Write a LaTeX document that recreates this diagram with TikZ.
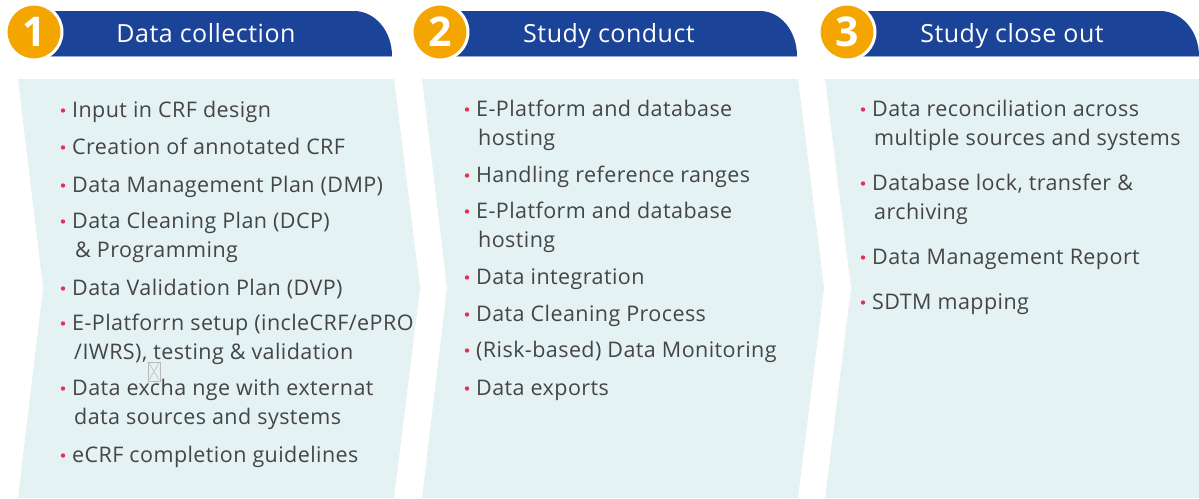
\documentclass[tikz,border=0pt]{standalone}
\usepackage{fontspec}
\setmainfont{Open Sans}
\newfontfamily\bodyfont[LetterSpace=2.0]{Open Sans}
\definecolor{bandc}{HTML}{1B4397}
\definecolor{orangec}{HTML}{F5A500}
\definecolor{panelc}{HTML}{E4F2F3}
\definecolor{textc}{HTML}{454545}
\definecolor{dotc}{HTML}{E5304E}
\newcommand\myitem[4]{\fill[dotc] (#2-9,#3-6.5) circle (2.2pt); \node[txt] (#1) at (#2,#3) {#4};}
\newcommand\myline[4]{\node[txt] (#1) at (#2,#3) {#4};}
\newcommand\myband[3]{\fill[bandc] (#1,11) -- (#2,11) .. controls ({#2+0.552*(#3-#2)},11) and (#3,31) .. (#3,56) -- (#1,56) -- cycle;
  \draw[bandc!45!white, line width=1pt] (#1,56) -- (#3,56);}
\begin{document}
\begin{tikzpicture}[x=1pt,y=-1pt,
  txt/.style={anchor=base west, text=textc, font=\bodyfont\fontsize{21.5}{21.5}\selectfont, inner sep=0pt},
  head/.style={text=white, font=\bodyfont\fontsize{25}{25}\selectfont, anchor=base, inner sep=0pt},
  num/.style={circle, fill=orangec, draw=white, line width=3pt, minimum size=56pt, inner sep=0pt, text=white, font=\fontsize{41}{41}\selectfont\bfseries},
  panel/.style={fill=panelc}]
\useasboundingbox (0,0) rectangle (1199,498);
% panels
\fill[panel] (18,79) -- (394,79) -- (420,288) -- (394,498) -- (18,498) -- (43,288) -- cycle;
\fill[panel] (422,79) -- (798,79) -- (824,288) -- (798,498) -- (422,498) -- (447,288) -- cycle;
\fill[panel] (825,79) -- (1199,79) -- (1199,498) -- (825,498) -- (851,288) -- cycle;
% header bands
\myband{40}{354}{392}
\myband{445}{760}{797}
\myband{850}{1160}{1199}
% number circles
\node[num] (n1) at (34,32) {1};
\node[num] (n2) at (440,32) {2};
\node[num] (n3) at (847,32) {3};
% header titles
\node[head] (h1) at (206,42) {Data collection};
\node[head] (h2) at (609,42) {Study conduct};
\node[head] (h3) at (1012,42) {Study close out};
% panel 1
\myitem{p1a}{72}{117}{Input in CRF design}
\myitem{p1b}{72}{154}{Creation of annotated CRF}
\myitem{p1c}{72}{192}{Data Management Plan (DMP)}
\myitem{p1d}{72}{228}{Data Cleaning Plan (DCP)}
\myline{p1dd}{75}{257}{\& Programming}
\myitem{p1e}{72}{295}{Data Validation Plan (DVP)}
\myitem{p1f}{72}{330}{E-Platforrn setup (incleCRF/ePRO}
\myline{p1ff}{74}{359}{/IWRS), testing \& validation}
\myitem{p1g}{72}{395}{Data excha nge with externat}
\myline{p1gg}{74}{424}{data sources and systems}
\myitem{p1h}{72}{462}{eCRF completion guidelines}
% placeholder icon
\draw[gray!55, line width=0.6pt] (148,362) rectangle (160,381);
\draw[gray!55, line width=0.5pt] (149,363) -- (159,380) (159,363) -- (149,380);
% panel 2
\myitem{p2a}{476}{116}{E-Platform and database}
\myline{p2aa}{478}{145}{hosting}
\myitem{p2b}{476}{182}{Handling reference ranges}
\myitem{p2c}{476}{218}{E-Platform and database}
\myline{p2cc}{478}{247}{hosting}
\myitem{p2d}{476}{284}{Data integration}
\myitem{p2e}{476}{321}{Data Cleaning Process}
\myitem{p2f}{476}{357}{(Risk-based) Data Monitoring}
\myitem{p2g}{476}{395}{Data exports}
% panel 3
\myitem{p3a}{872}{116}{Data reconciliation across}
\myline{p3aa}{874}{145}{multiple sources and systems}
\myitem{p3b}{872}{190}{Database lock, transfer \&}
\myline{p3bb}{874}{219}{archiving}
\myitem{p3c}{872}{264}{Data Management Report}
\myitem{p3d}{872}{309}{SDTM mapping}
\end{tikzpicture}
\end{document}
